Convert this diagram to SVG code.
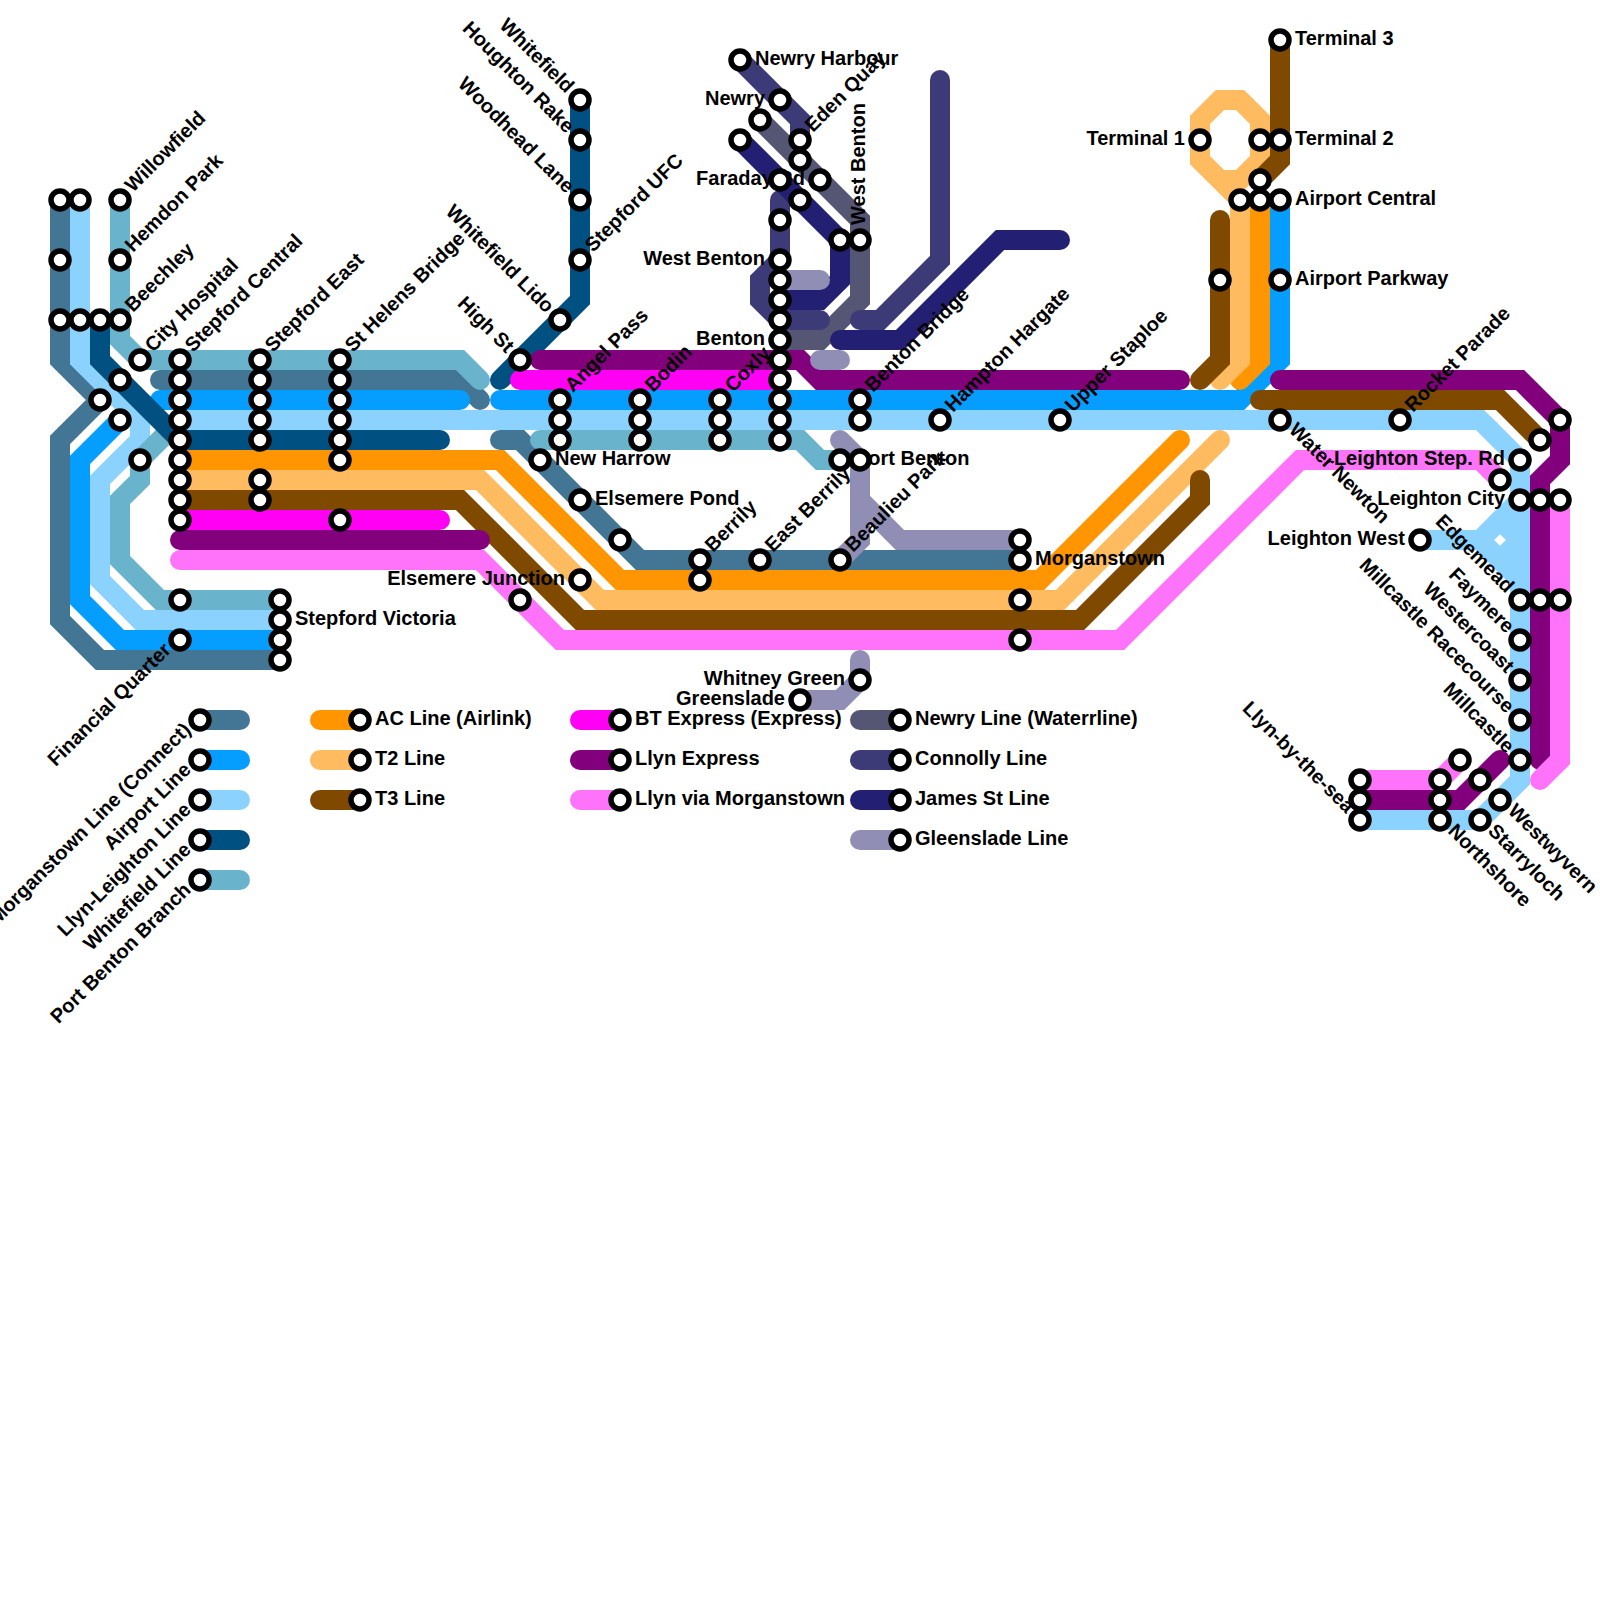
<svg xmlns="http://www.w3.org/2000/svg" width="1600" height="1600" viewBox="0 0 1600 1600">
<style>
.l{fill:none;stroke-width:20;stroke-linecap:round;stroke-linejoin:miter}
.mo{stroke:#437594}.ai{stroke:#059eff}.ll{stroke:#8cd2ff}.wf{stroke:#005082}.pb{stroke:#6ab3cc}
.ac{stroke:#ff9500}.t2{stroke:#ffbb60}.t3{stroke:#7f4a00}.bt{stroke:#ff00f5}.le{stroke:#82007c}.lm{stroke:#ff73fa}
.nw{stroke:#555574}.co{stroke:#3d3a78}.js{stroke:#231f72}.gl{stroke:#918eb6}
circle{fill:#fff;stroke:#000;stroke-width:5.5}
text{font-family:"Liberation Sans",Arial,sans-serif;font-weight:bold;font-size:20px;fill:#000}
.e{text-anchor:end}
</style>
<rect width="1600" height="1600" fill="#fff"/>
<g id="connectors">
<path class="l mo" d="M60 200V360L100 400L60 440V620L100 660H280"/>
<path class="l mo" d="M160 380H460L480 400"/>
<path class="l mo" d="M500 440H520L640 560H1020"/>
<path class="l ai" d="M280 640H120L80 600V460L120 420"/>
<path class="l ai" d="M160 400H460"/>
<path class="l ai" d="M500 400H1240L1280 360V200"/>
<path class="l ll" d="M80 200V360L140 420V440L100 480V580L140 620H280"/>
<path class="l ll" d="M180 420H1480L1520 460V780L1480 820H1360"/>
<path class="l ll" d="M1420 540H1480L1520 500"/>
<path class="l ll" d="M1480 540L1520 580"/>
<path class="l ll" d="M1500 520L1520 540L1500 560"/>
<path class="l pb" d="M120 200V340L140 360H460L480 380"/>
<path class="l pb" d="M180 420L140 460V480L120 500V560L160 600H280"/>
<path class="l pb" d="M540 440H800L820 460H840"/>
<path class="l wf" d="M100 320V360L180 440H440"/>
<path class="l wf" d="M580 100V300L500 380"/>
<path class="l ac" d="M180 460H500L620 580H1040L1180 440"/>
<path class="l ac" d="M1240 380L1260 360V200"/>
<path class="l t2" d="M180 480H480L600 600H1060L1220 440"/>
<path class="l t2" d="M1220 380L1240 360V200L1220 180L1200 160V120L1220 100H1240L1260 120V160L1240 180H1220"/>
<path class="l t3" d="M180 500H460L580 620H1080L1200 500V480"/>
<path class="l t3" d="M1200 380L1220 360V220"/>
<path class="l t3" d="M1280 40V160L1260 180"/>
<path class="l t3" d="M1260 400H1500L1540 440"/>
<path class="l bt" d="M180 520H440"/>
<path class="l bt" d="M520 380H780"/>
<path class="l le" d="M180 540H480"/>
<path class="l le" d="M540 360H800L820 380H1180"/>
<path class="l le" d="M1280 380H1520L1560 420V460L1540 480V760"/>
<path class="l le" d="M1360 800H1460L1500 760"/>
<path class="l lm" d="M180 560H480L560 640H1120L1300 460H1480L1500 480"/>
<path class="l lm" d="M1560 500V760L1540 780"/>
<path class="l lm" d="M1360 780H1440L1460 760"/>
<path class="l nw" d="M760 120L860 220V300L820 340H780"/>
<path class="l co" d="M740 60L800 120V140"/>
<path class="l co" d="M780 200V260L760 280V300L780 320H820"/>
<path class="l co" d="M860 320H880L940 260V80"/>
<path class="l js" d="M740 140L840 240V280L820 300H780"/>
<path class="l js" d="M840 340H900L1000 240H1060"/>
<path class="l gl" d="M780 280H820"/>
<path class="l gl" d="M820 360H840"/>
<path class="l gl" d="M840 440L860 460V540L840 560"/>
<path class="l gl" d="M860 500L900 540H1020"/>
<path class="l gl" d="M860 660V680L840 700H800"/>
</g>
<g id="legend-lines">
<path class="l mo" d="M200 720H240"/><path class="l ai" d="M200 760H240"/><path class="l ll" d="M200 800H240"/><path class="l wf" d="M200 840H240"/><path class="l pb" d="M200 880H240"/>
<path class="l ac" d="M320 720H360"/><path class="l t2" d="M320 760H360"/><path class="l t3" d="M320 800H360"/>
<path class="l bt" d="M580 720H620"/><path class="l le" d="M580 760H620"/><path class="l lm" d="M580 800H620"/>
<path class="l nw" d="M860 720H900"/><path class="l co" d="M860 760H900"/><path class="l js" d="M860 800H900"/><path class="l gl" d="M860 840H900"/>
</g>
<g id="nodes">
<g id="willowfield"><circle cx="120" cy="200" r="9"/><text transform="translate(133 193) rotate(-45)">Willowfield</text></g>
<g id="hemdon-park"><circle cx="120" cy="260" r="9"/><text transform="translate(133 253) rotate(-45)">Hemdon Park</text></g>
<g id="beechley"><circle cx="120" cy="320" r="9"/><text transform="translate(133 313) rotate(-45)">Beechley</text></g>
<g id="city-hospital"><circle cx="140" cy="360" r="9"/><text transform="translate(153 353) rotate(-45)">City Hospital</text></g>
<g id="stepford-central"><circle cx="180" cy="360" r="9"/><text transform="translate(193 353) rotate(-45)">Stepford Central</text></g>
<g id="stepford-east"><circle cx="260" cy="360" r="9"/><text transform="translate(273 353) rotate(-45)">Stepford East</text></g>
<g id="st-helens-bridge"><circle cx="340" cy="360" r="9"/><text transform="translate(353 353) rotate(-45)">St Helens Bridge</text></g>
<g id="stepford-victoria"><circle cx="280" cy="620" r="9"/><text x="295" y="625">Stepford Victoria</text></g>
<g id="financial-quarter"><circle cx="180" cy="640" r="9"/><text class="e" transform="translate(172 651) rotate(-45)">Financial Quarter</text></g>
<g id="whitefield"><circle cx="580" cy="100" r="9"/><text class="e" transform="translate(566 94) rotate(45)">Whitefield</text></g>
<g id="houghton-rake"><circle cx="580" cy="140" r="9"/><text class="e" transform="translate(566 134) rotate(45)">Houghton Rake</text></g>
<g id="woodhead-lane"><circle cx="580" cy="200" r="9"/><text class="e" transform="translate(566 194) rotate(45)">Woodhead Lane</text></g>
<g id="stepford-ufc"><circle cx="580" cy="260" r="9"/><text transform="translate(593 253) rotate(-45)">Stepford UFC</text></g>
<g id="whitefield-lido"><circle cx="560" cy="320" r="9"/><text class="e" transform="translate(546 314) rotate(45)">Whitefield Lido</text></g>
<g id="high-st"><circle cx="520" cy="360" r="9"/><text class="e" transform="translate(506 354) rotate(45)">High St</text></g>
<g id="angel-pass"><circle cx="560" cy="400" r="9"/><text transform="translate(573 393) rotate(-45)">Angel Pass</text></g>
<g id="bodin"><circle cx="640" cy="400" r="9"/><text transform="translate(653 393) rotate(-45)">Bodin</text></g>
<g id="coxly"><circle cx="720" cy="400" r="9"/><text transform="translate(733 393) rotate(-45)">Coxly</text></g>
<g id="new-harrow"><circle cx="540" cy="460" r="9"/><text x="555" y="465">New Harrow</text></g>
<g id="elsemere-pond"><circle cx="580" cy="500" r="9"/><text x="595" y="505">Elsemere Pond</text></g>
<g id="elsemere-junction"><circle cx="580" cy="580" r="9"/><text class="e" x="565" y="585">Elsemere Junction</text></g>
<g id="berrily"><circle cx="700" cy="560" r="9"/><text transform="translate(713 553) rotate(-45)">Berrily</text></g>
<g id="east-berrily"><circle cx="760" cy="560" r="9"/><text transform="translate(773 553) rotate(-45)">East Berrily</text></g>
<g id="beaulieu-park"><circle cx="840" cy="560" r="9"/><text transform="translate(853 553) rotate(-45)">Beaulieu Park</text></g>
<g id="port-benton"><circle cx="840" cy="460" r="9"/><text x="855" y="465">Port Benton</text></g>
<g id="newry-harbour"><circle cx="740" cy="60" r="9"/><text x="755" y="65">Newry Harbour</text></g>
<g id="newry"><circle cx="780" cy="100" r="9"/><text class="e" x="765" y="105">Newry</text></g>
<g id="eden-quay"><circle cx="800" cy="140" r="9"/><text transform="translate(813 133) rotate(-45)">Eden Quay</text></g>
<g id="faraday-rd"><circle cx="820" cy="180" r="9"/><text class="e" x="805" y="185">Faraday Rd</text></g>
<g id="west-benton-v"><circle cx="860" cy="240" r="9"/><text transform="translate(865 225) rotate(-90)">West Benton</text></g>
<g id="west-benton"><circle cx="780" cy="260" r="9"/><text class="e" x="765" y="265">West Benton</text></g>
<g id="benton"><circle cx="780" cy="340" r="9"/><text class="e" x="765" y="345">Benton</text></g>
<g id="benton-bridge"><circle cx="860" cy="400" r="9"/><text transform="translate(873 393) rotate(-45)">Benton Bridge</text></g>
<g id="hampton-hargate"><circle cx="940" cy="420" r="9"/><text transform="translate(953 413) rotate(-45)">Hampton Hargate</text></g>
<g id="upper-staploe"><circle cx="1060" cy="420" r="9"/><text transform="translate(1073 413) rotate(-45)">Upper Staploe</text></g>
<g id="morganstown"><circle cx="1020" cy="560" r="9"/><text x="1035" y="565">Morganstown</text></g>
<g id="whitney-green"><circle cx="860" cy="680" r="9"/><text class="e" x="845" y="685">Whitney Green</text></g>
<g id="greenslade"><circle cx="800" cy="700" r="9"/><text class="e" x="785" y="705">Greenslade</text></g>
<g id="terminal-1"><circle cx="1200" cy="140" r="9"/><text class="e" x="1185" y="145">Terminal 1</text></g>
<g id="terminal-2"><circle cx="1280" cy="140" r="9"/><text x="1295" y="145">Terminal 2</text></g>
<g id="terminal-3"><circle cx="1280" cy="40" r="9"/><text x="1295" y="45">Terminal 3</text></g>
<g id="airport-central"><circle cx="1280" cy="200" r="9"/><text x="1295" y="205">Airport Central</text></g>
<g id="airport-parkway"><circle cx="1280" cy="280" r="9"/><text x="1295" y="285">Airport Parkway</text></g>
<g id="water-newton"><circle cx="1280" cy="420" r="9"/><text transform="translate(1288 431) rotate(45)">Water Newton</text></g>
<g id="rocket-parade"><circle cx="1400" cy="420" r="9"/><text transform="translate(1413 413) rotate(-45)">Rocket Parade</text></g>
<g id="leighton-step-rd"><circle cx="1520" cy="460" r="9"/><text class="e" x="1505" y="465">Leighton Step. Rd</text></g>
<g id="leighton-city"><circle cx="1520" cy="500" r="9"/><text class="e" x="1505" y="505">Leighton City</text></g>
<g id="leighton-west"><circle cx="1420" cy="540" r="9"/><text class="e" x="1405" y="545">Leighton West</text></g>
<g id="edgemead"><circle cx="1520" cy="600" r="9"/><text class="e" transform="translate(1506 594) rotate(45)">Edgemead</text></g>
<g id="faymere"><circle cx="1520" cy="640" r="9"/><text class="e" transform="translate(1506 634) rotate(45)">Faymere</text></g>
<g id="westercoast"><circle cx="1520" cy="680" r="9"/><text class="e" transform="translate(1506 674) rotate(45)">Westercoast</text></g>
<g id="millcastle-racecourse"><circle cx="1520" cy="720" r="9"/><text class="e" transform="translate(1506 714) rotate(45)">Millcastle Racecourse</text></g>
<g id="millcastle"><circle cx="1520" cy="760" r="9"/><text class="e" transform="translate(1506 754) rotate(45)">Millcastle</text></g>
<g id="llyn-by-the-sea"><circle cx="1360" cy="820" r="9"/><text class="e" transform="translate(1346 814) rotate(45)">Llyn-by-the-sea</text></g>
<g id="westwyvern"><circle cx="1500" cy="800" r="9"/><text transform="translate(1507 812) rotate(45)">Westwyvern</text></g>
<g id="starryloch"><circle cx="1480" cy="820" r="9"/><text transform="translate(1487 832) rotate(45)">Starryloch</text></g>
<g id="northshore"><circle cx="1440" cy="820" r="9"/><text transform="translate(1447 832) rotate(45)">Northshore</text></g>
<g id="legend-morganstown"><circle cx="200" cy="720" r="9"/><text class="e" transform="translate(192 731) rotate(-45)">Morganstown Line (Connect)</text></g>
<g id="legend-airport"><circle cx="200" cy="760" r="9"/><text class="e" transform="translate(192 771) rotate(-45)">Airport Line</text></g>
<g id="legend-llyn-leighton"><circle cx="200" cy="800" r="9"/><text class="e" transform="translate(192 811) rotate(-45)">Llyn-Leighton Line</text></g>
<g id="legend-whitefield"><circle cx="200" cy="840" r="9"/><text class="e" transform="translate(192 851) rotate(-45)">Whitefield Line</text></g>
<g id="legend-port-benton"><circle cx="200" cy="880" r="9"/><text class="e" transform="translate(192 891) rotate(-45)">Port Benton Branch</text></g>
<g id="legend-ac"><circle cx="360" cy="720" r="9"/><text x="375" y="725">AC Line (Airlink)</text></g>
<g id="legend-t2"><circle cx="360" cy="760" r="9"/><text x="375" y="765">T2 Line</text></g>
<g id="legend-t3"><circle cx="360" cy="800" r="9"/><text x="375" y="805">T3 Line</text></g>
<g id="legend-bt"><circle cx="620" cy="720" r="9"/><text x="635" y="725">BT Express (Express)</text></g>
<g id="legend-llyn-express"><circle cx="620" cy="760" r="9"/><text x="635" y="765">Llyn Express</text></g>
<g id="legend-llyn-via"><circle cx="620" cy="800" r="9"/><text x="635" y="805">Llyn via Morganstown</text></g>
<g id="legend-newry"><circle cx="900" cy="720" r="9"/><text x="915" y="725">Newry Line (Waterrline)</text></g>
<g id="legend-connolly"><circle cx="900" cy="760" r="9"/><text x="915" y="765">Connolly Line</text></g>
<g id="legend-james"><circle cx="900" cy="800" r="9"/><text x="915" y="805">James St Line</text></g>
<g id="legend-gleenslade"><circle cx="900" cy="840" r="9"/><text x="915" y="845">Gleenslade Line</text></g>
<g id="s-60-200"><circle cx="60" cy="200" r="9"/></g><g id="s-80-200"><circle cx="80" cy="200" r="9"/></g>
<g id="s-60-260"><circle cx="60" cy="260" r="9"/></g>
<g id="s-60-320"><circle cx="60" cy="320" r="9"/></g><g id="s-80-320"><circle cx="80" cy="320" r="9"/></g><g id="s-100-320"><circle cx="100" cy="320" r="9"/></g>
<g id="s-120-380"><circle cx="120" cy="380" r="9"/></g><g id="s-100-400"><circle cx="100" cy="400" r="9"/></g><g id="s-120-420"><circle cx="120" cy="420" r="9"/></g><g id="s-140-460"><circle cx="140" cy="460" r="9"/></g>
<g id="s-180-380"><circle cx="180" cy="380" r="9"/></g><g id="s-180-400"><circle cx="180" cy="400" r="9"/></g><g id="s-180-420"><circle cx="180" cy="420" r="9"/></g><g id="s-180-440"><circle cx="180" cy="440" r="9"/></g><g id="s-180-460"><circle cx="180" cy="460" r="9"/></g><g id="s-180-480"><circle cx="180" cy="480" r="9"/></g><g id="s-180-500"><circle cx="180" cy="500" r="9"/></g><g id="s-180-520"><circle cx="180" cy="520" r="9"/></g><g id="s-180-600"><circle cx="180" cy="600" r="9"/></g>
<g id="s-260-380"><circle cx="260" cy="380" r="9"/></g><g id="s-260-400"><circle cx="260" cy="400" r="9"/></g><g id="s-260-420"><circle cx="260" cy="420" r="9"/></g><g id="s-260-440"><circle cx="260" cy="440" r="9"/></g><g id="s-260-480"><circle cx="260" cy="480" r="9"/></g><g id="s-260-500"><circle cx="260" cy="500" r="9"/></g>
<g id="s-340-380"><circle cx="340" cy="380" r="9"/></g><g id="s-340-400"><circle cx="340" cy="400" r="9"/></g><g id="s-340-420"><circle cx="340" cy="420" r="9"/></g><g id="s-340-440"><circle cx="340" cy="440" r="9"/></g><g id="s-340-460"><circle cx="340" cy="460" r="9"/></g><g id="s-340-520"><circle cx="340" cy="520" r="9"/></g>
<g id="s-280-600"><circle cx="280" cy="600" r="9"/></g><g id="s-280-640"><circle cx="280" cy="640" r="9"/></g><g id="s-280-660"><circle cx="280" cy="660" r="9"/></g>
<g id="s-560-420"><circle cx="560" cy="420" r="9"/></g><g id="s-560-440"><circle cx="560" cy="440" r="9"/></g>
<g id="s-640-420"><circle cx="640" cy="420" r="9"/></g><g id="s-640-440"><circle cx="640" cy="440" r="9"/></g>
<g id="s-720-420"><circle cx="720" cy="420" r="9"/></g><g id="s-720-440"><circle cx="720" cy="440" r="9"/></g>
<g id="s-620-540"><circle cx="620" cy="540" r="9"/></g><g id="s-700-580"><circle cx="700" cy="580" r="9"/></g><g id="s-520-600"><circle cx="520" cy="600" r="9"/></g>
<g id="s-760-120"><circle cx="760" cy="120" r="9"/></g><g id="s-740-140"><circle cx="740" cy="140" r="9"/></g><g id="s-800-160"><circle cx="800" cy="160" r="9"/></g><g id="s-800-200"><circle cx="800" cy="200" r="9"/></g><g id="s-840-240"><circle cx="840" cy="240" r="9"/></g>
<g id="s-780-180"><circle cx="780" cy="180" r="9"/></g><g id="s-780-220"><circle cx="780" cy="220" r="9"/></g><g id="s-780-280"><circle cx="780" cy="280" r="9"/></g><g id="s-780-300"><circle cx="780" cy="300" r="9"/></g><g id="s-780-320"><circle cx="780" cy="320" r="9"/></g><g id="s-780-360"><circle cx="780" cy="360" r="9"/></g><g id="s-780-380"><circle cx="780" cy="380" r="9"/></g><g id="s-780-400"><circle cx="780" cy="400" r="9"/></g><g id="s-780-420"><circle cx="780" cy="420" r="9"/></g><g id="s-780-440"><circle cx="780" cy="440" r="9"/></g>
<g id="s-860-420"><circle cx="860" cy="420" r="9"/></g><g id="s-860-460"><circle cx="860" cy="460" r="9"/></g>
<g id="s-1020-540"><circle cx="1020" cy="540" r="9"/></g><g id="s-1020-600"><circle cx="1020" cy="600" r="9"/></g><g id="s-1020-640"><circle cx="1020" cy="640" r="9"/></g>
<g id="s-1220-280"><circle cx="1220" cy="280" r="9"/></g><g id="s-1260-140"><circle cx="1260" cy="140" r="9"/></g><g id="s-1260-180"><circle cx="1260" cy="180" r="9"/></g><g id="s-1240-200"><circle cx="1240" cy="200" r="9"/></g><g id="s-1260-200"><circle cx="1260" cy="200" r="9"/></g>
<g id="s-1560-420"><circle cx="1560" cy="420" r="9"/></g><g id="s-1540-440"><circle cx="1540" cy="440" r="9"/></g><g id="s-1500-480"><circle cx="1500" cy="480" r="9"/></g><g id="s-1540-500"><circle cx="1540" cy="500" r="9"/></g><g id="s-1560-500"><circle cx="1560" cy="500" r="9"/></g><g id="s-1540-600"><circle cx="1540" cy="600" r="9"/></g><g id="s-1560-600"><circle cx="1560" cy="600" r="9"/></g>
<g id="s-1360-780"><circle cx="1360" cy="780" r="9"/></g><g id="s-1360-800"><circle cx="1360" cy="800" r="9"/></g><g id="s-1440-780"><circle cx="1440" cy="780" r="9"/></g><g id="s-1440-800"><circle cx="1440" cy="800" r="9"/></g><g id="s-1460-760"><circle cx="1460" cy="760" r="9"/></g><g id="s-1480-780"><circle cx="1480" cy="780" r="9"/></g>
</g>
</svg>
